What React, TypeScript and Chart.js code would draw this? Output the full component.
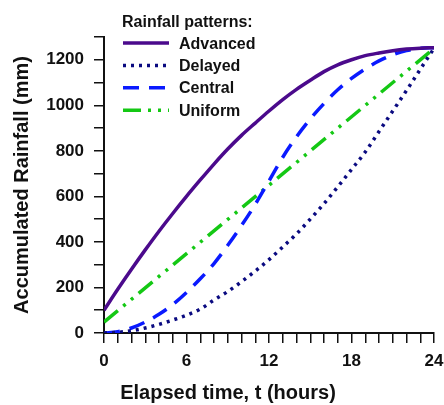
import React, { useEffect, useRef } from "react";
import { Chart, registerables } from "chart.js";

Chart.register(...registerables);

// ---- data ----
const hours = [0, 1, 2, 3, 4, 5, 6, 7, 8, 9, 10, 11, 12, 13, 14, 15, 16, 17, 18, 19, 20, 21, 22, 23, 24];
const advanced = [100, 192, 280, 365, 447, 525, 600, 672, 742, 808, 868, 922, 975, 1025, 1070, 1110, 1148, 1178, 1200, 1218, 1230, 1240, 1247, 1251, 1253];
const delayed = [0, 3, 10, 22, 38, 57, 78, 105, 145, 182, 225, 272, 322, 378, 435, 500, 568, 642, 718, 795, 885, 975, 1065, 1158, 1250];
const central = [0, 6, 22, 48, 82, 125, 178, 238, 305, 385, 472, 565, 668, 772, 862, 940, 1008, 1068, 1118, 1160, 1195, 1222, 1240, 1250, 1253];
const uniformHours = [0, 24];
const uniform = [48, 1250];

const seriesNames = ["Advanced", "Delayed", "Central", "Uniform"];
const legendTitle = "Rainfall patterns:";
const xTitle = "Elapsed time, t (hours)";
const yTitle = "Accumulated Rainfall (mm)";
const xMin = 0;
const xMax = 24;
const xLabelEvery = 6;
const yMin = 0;
const yMax = 1300;
const yLabelEvery = 200;
const yLabelTop = 1200;

const FONT = "'Liberation Sans', Arial, sans-serif";

const toPoints = (xs: number[], ys: number[]) => xs.map((x, i) => ({ x, y: ys[i] }));

const legendPlugin = {
  id: "customLegend",
  afterDraw(chart: any) {
    const ctx = chart.ctx;
    ctx.save();
    ctx.fillStyle = "#111";
    ctx.font = `bold 16px ${FONT}`;
    ctx.textAlign = "left";
    ctx.textBaseline = "alphabetic";
    ctx.fillText(legendTitle, 122, 27);
    chart.data.datasets.forEach((ds: any, i: number) => {
      const cy = 43 + i * 22.4;
      ctx.save();
      ctx.strokeStyle = ds.borderColor;
      ctx.lineWidth = ds.borderWidth;
      ctx.setLineDash(ds.borderDash || []);
      ctx.lineCap = "butt";
      ctx.beginPath();
      ctx.moveTo(123, cy);
      ctx.lineTo(169, cy);
      ctx.stroke();
      ctx.restore();
      ctx.fillStyle = "#111";
      ctx.font = `bold 16px ${FONT}`;
      ctx.fillText(ds.label, 179, cy + 5.5);
    });
    // x axis title
    ctx.font = `bold 20px ${FONT}`;
    ctx.textAlign = "center";
    ctx.fillText(xTitle, 228, 399);
    ctx.restore();
  },
};

export default function App() {
  const ref = useRef<HTMLCanvasElement>(null);
  useEffect(() => {
    if (!ref.current) return;
    const chart = new Chart(ref.current, {
      type: "line",
      data: {
        datasets: [
          {
            label: seriesNames[0],
            data: toPoints(hours, advanced),
            borderColor: "#4b0a8c",
            borderWidth: 3.5,
            pointRadius: 0,
            cubicInterpolationMode: "monotone",
          },
          {
            label: seriesNames[1],
            data: toPoints(hours, delayed),
            borderColor: "#0a0a80",
            borderWidth: 3.5,
            borderDash: [3, 5],
            pointRadius: 0,
            cubicInterpolationMode: "monotone",
          },
          {
            label: seriesNames[2],
            data: toPoints(hours, central),
            borderColor: "#0a1aff",
            borderWidth: 3.5,
            borderDash: [16, 10],
            pointRadius: 0,
            cubicInterpolationMode: "monotone",
          },
          {
            label: seriesNames[3],
            data: toPoints(uniformHours, uniform),
            borderColor: "#14c814",
            borderWidth: 3.5,
            borderDash: [18, 7, 3, 7, 3, 7],
            pointRadius: 0,
          },
        ],
      },
      options: {
        animation: false,
        responsive: false,
        events: [],
        layout: { padding: { left: 0, top: 37, right: 0, bottom: 0 } },
        plugins: { legend: { display: false }, tooltip: { enabled: false } },
        scales: {
          x: {
            type: "linear",
            min: xMin,
            max: xMax,
            afterFit: (s: any) => {
              s.height = 72;
              s.paddingRight = 10;
              s.paddingLeft = 0;
            },
            border: { display: true, color: "#111", width: 2 },
            grid: { drawOnChartArea: false, drawTicks: true, tickLength: 10, tickColor: "#111", lineWidth: 1.5 },
            ticks: {
              stepSize: 1,
              autoSkip: false,
              maxRotation: 0,
              padding: 8,
              color: "#111",
              font: { family: FONT, size: 17, weight: "bold" },
              callback: (v: any) => (Number(v) % xLabelEvery === 0 ? String(v) : ""),
            },
          },
          y: {
            type: "linear",
            min: yMin,
            max: yMax,
            afterFit: (s: any) => {
              s.width = 104;
            },
            border: { display: true, color: "#111", width: 2 },
            grid: { drawOnChartArea: false, drawTicks: true, tickLength: 10, tickColor: "#111", lineWidth: 1.5 },
            title: {
              display: true,
              text: yTitle,
              color: "#111",
              padding: { top: 10, bottom: 0 },
              font: { family: FONT, size: 20, weight: "bold" },
            },
            ticks: {
              stepSize: 100,
              autoSkip: false,
              padding: 10,
              color: "#111",
              font: { family: FONT, size: 17, weight: "bold" },
              callback: (v: any) => (Number(v) % yLabelEvery === 0 && Number(v) <= yLabelTop ? String(v) : ""),
            },
          },
        },
      },
      plugins: [legendPlugin],
    });
    return () => chart.destroy();
  }, []);
  return (
    <div style={{ position: "fixed", left: 0, top: 0, width: 444, height: 405, background: "#fff" }}>
      <canvas ref={ref} width={444} height={405} style={{ width: 444, height: 405, display: "block" }} />
    </div>
  );
}
